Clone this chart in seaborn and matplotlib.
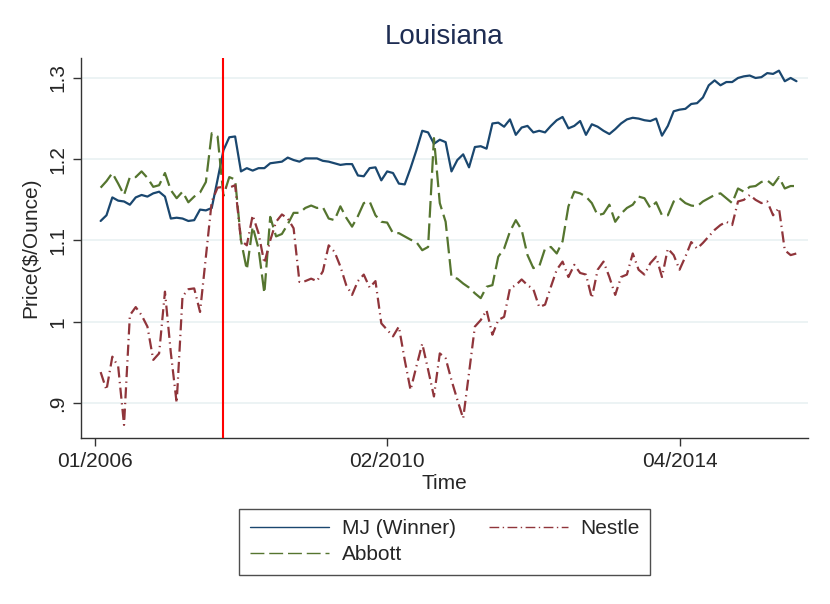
import pandas as pd
import numpy as np
import seaborn as sns
import matplotlib.pyplot as plt

# monthly periods, 1 = 02/2006
period = list(range(1, 121))

mj = [1.124, 1.131, 1.153, 1.149, 1.148, 1.144, 1.153, 1.156, 1.154, 1.158,
      1.160, 1.154, 1.127, 1.128, 1.127, 1.124, 1.125, 1.138, 1.137, 1.140,
      1.175, 1.211, 1.227, 1.228, 1.185, 1.189, 1.186, 1.189, 1.189, 1.195,
      1.196, 1.197, 1.202, 1.199, 1.197, 1.201, 1.201, 1.201, 1.198, 1.197,
      1.195, 1.193, 1.194, 1.194, 1.180, 1.179, 1.189, 1.190, 1.174, 1.185,
      1.183, 1.170, 1.169, 1.189, 1.211, 1.235, 1.233, 1.219, 1.224, 1.221,
      1.185, 1.199, 1.206, 1.190, 1.215, 1.216, 1.213, 1.244, 1.245, 1.240,
      1.249, 1.230, 1.239, 1.241, 1.233, 1.235, 1.233, 1.241, 1.248, 1.252,
      1.238, 1.241, 1.247, 1.230, 1.243, 1.240, 1.235, 1.231, 1.237, 1.244,
      1.249, 1.251, 1.250, 1.248, 1.247, 1.250, 1.229, 1.241, 1.259, 1.261,
      1.262, 1.268, 1.269, 1.276, 1.291, 1.297, 1.291, 1.295, 1.295, 1.300,
      1.302, 1.303, 1.300, 1.301, 1.306, 1.305, 1.309, 1.296, 1.300, 1.296]

abbott = [1.165, 1.173, 1.183, 1.170, 1.156, 1.178, 1.178, 1.185, 1.177, 1.166,
          1.168, 1.183, 1.162, 1.152, 1.160, 1.147, 1.154, 1.159, 1.172, 1.232,
          1.228, 1.155, 1.178, 1.175, 1.100, 1.064, 1.117, 1.090, 1.035, 1.129,
          1.105, 1.108, 1.120, 1.134, 1.134, 1.140, 1.143, 1.140, 1.141, 1.127,
          1.125, 1.142, 1.128, 1.117, 1.130, 1.146, 1.148, 1.131, 1.123, 1.122,
          1.109, 1.109, 1.105, 1.101, 1.098, 1.088, 1.092, 1.226, 1.146, 1.123,
          1.055, 1.053, 1.047, 1.042, 1.035, 1.029, 1.043, 1.045, 1.080, 1.090,
          1.111, 1.125, 1.113, 1.082, 1.066, 1.068, 1.090, 1.092, 1.084, 1.099,
          1.142, 1.160, 1.158, 1.154, 1.146, 1.131, 1.133, 1.144, 1.123, 1.133,
          1.140, 1.144, 1.154, 1.152, 1.140, 1.147, 1.131, 1.131, 1.148, 1.152,
          1.146, 1.143, 1.142, 1.148, 1.152, 1.156, 1.158, 1.152, 1.146, 1.164,
          1.160, 1.166, 1.167, 1.172, 1.174, 1.168, 1.178, 1.164, 1.167, 1.167]

nestle = [0.938, 0.916, 0.957, 0.945, 0.873, 1.008, 1.018, 1.008, 0.994, 0.953,
          0.961, 1.037, 0.962, 0.900, 1.031, 1.040, 1.041, 1.012, 1.080, 1.148,
          1.165, 1.166, 1.165, 1.168, 1.100, 1.094, 1.131, 1.109, 1.072, 1.100,
          1.123, 1.132, 1.127, 1.115, 1.049, 1.050, 1.053, 1.050, 1.062, 1.094,
          1.086, 1.068, 1.045, 1.033, 1.050, 1.058, 1.042, 1.050, 0.998, 0.990,
          0.982, 0.994, 0.953, 0.916, 0.945, 0.973, 0.941, 0.908, 0.961, 0.955,
          0.928, 0.904, 0.881, 0.937, 0.994, 1.002, 1.014, 0.984, 1.002, 1.006,
          1.041, 1.045, 1.052, 1.045, 1.040, 1.018, 1.021, 1.043, 1.064, 1.074,
          1.055, 1.070, 1.060, 1.058, 1.029, 1.064, 1.074, 1.055, 1.033, 1.055,
          1.058, 1.084, 1.064, 1.058, 1.072, 1.080, 1.055, 1.090, 1.082, 1.064,
          1.080, 1.098, 1.090, 1.097, 1.105, 1.113, 1.119, 1.123, 1.119, 1.148,
          1.150, 1.156, 1.150, 1.146, 1.148, 1.131, 1.140, 1.088, 1.082, 1.084]

x_ticks = [0, 50, 100]
x_tick_labels = ['01/2006', '02/2010', '04/2014']
y_ticks = [0.9, 1.0, 1.1, 1.2, 1.3]
y_tick_labels = ['.9', '1', '1.1', '1.2', '1.3']
contract_change = 22

sns.set_style('white')
plt.rcParams['font.family'] = ['Liberation Sans', 'DejaVu Sans']

df = pd.DataFrame({'period': period, 'MJ (Winner)': mj,
                   'Abbott': abbott, 'Nestle': nestle})

series_style = {
    'MJ (Winner)': ('#1a476f', '-'),
    'Abbott': ('#55752f', (0, (7.5, 2.6))),
    'Nestle': ('#90353b', (0, (5, 2, 0.6, 2))),
}

fig = plt.figure(figsize=(8.3, 6.04), dpi=100)
ax = fig.add_axes([0.098, 0.275, 0.875, 0.629])

ax.grid(axis='y', color='#eaf2f3', linewidth=1.3, zorder=0)
ax.grid(axis='x', visible=False)

for name, (color, ls) in series_style.items():
    sns.lineplot(data=df, x='period', y=name, color=color, linestyle=ls,
                 linewidth=1.6, ax=ax, label=name, legend=False)

ax.axvline(contract_change, color='red', linewidth=1.5, zorder=5)

ax.set_xlim(-2.3, 121.9)
ax.set_ylim(0.857, 1.3246)
ax.set_xticks(x_ticks)
ax.set_xticklabels(x_tick_labels)
ax.set_yticks(y_ticks)
ax.set_yticklabels(y_tick_labels, rotation=90, va='center')

ax.tick_params(axis='both', which='major', direction='out', length=6,
               width=1, color='#333333', labelsize=15, pad=4,
               bottom=True, left=True)
for side in ['top', 'right']:
    ax.spines[side].set_visible(False)
for side in ['left', 'bottom']:
    ax.spines[side].set_color('#333333')
    ax.spines[side].set_linewidth(1.0)

ax.set_xlabel('Time', fontsize=15, labelpad=2)
ax.set_ylabel(r'Price(\$/Ounce)', fontsize=15, labelpad=6)
ax.set_title('Louisiana', fontsize=20, color='#1e2d53', pad=10)

handles, labels = ax.get_legend_handles_labels()
leg = fig.legend(handles, labels, loc='center', bbox_to_anchor=(0.536, 0.103),
                 ncol=2, fontsize=15, frameon=True, fancybox=False,
                 edgecolor='#222222', handlelength=3.8, handletextpad=0.6,
                 columnspacing=1.6, borderpad=0.5, labelspacing=0.35)
leg.get_frame().set_linewidth(1.0)
legend_dashes = {'Abbott': (0, (10, 3.5)), 'Nestle': (0, (7, 2.5, 1, 2.5))}
for line, text in zip(leg.get_lines(), leg.get_texts()):
    line.set_linewidth(1.0)
    if text.get_text() in legend_dashes:
        line.set_linestyle(legend_dashes[text.get_text()])

fig.savefig('out.png', dpi=100, facecolor='white')
